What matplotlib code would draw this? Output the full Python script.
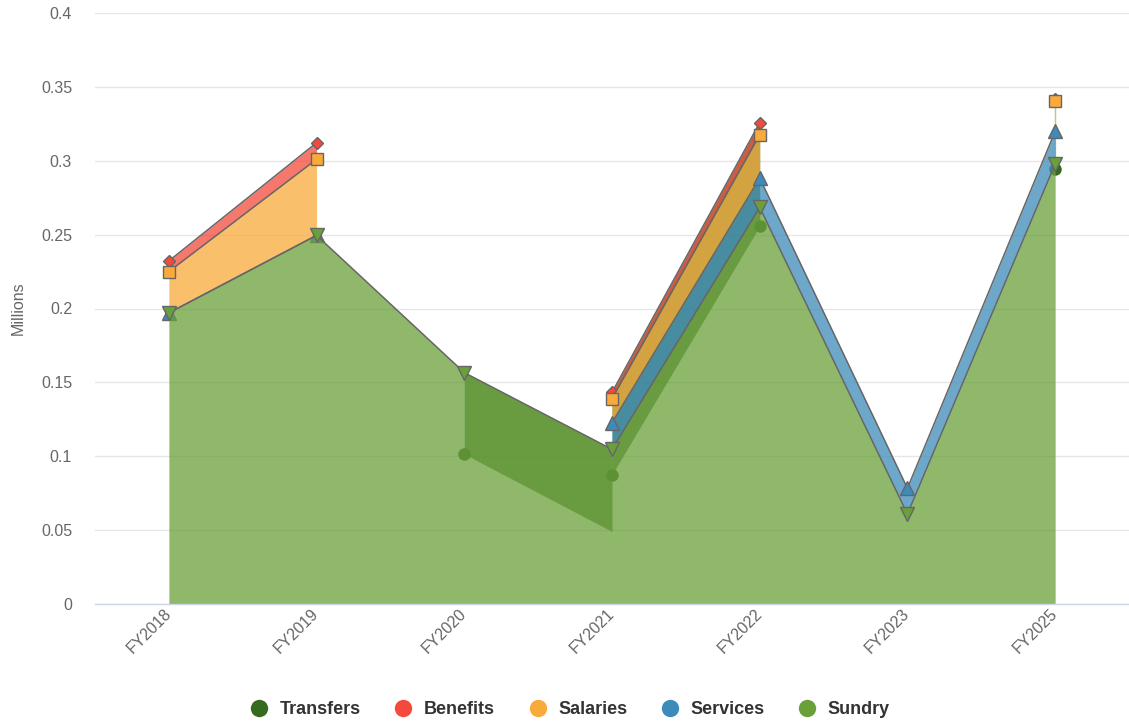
import numpy as np
import matplotlib.pyplot as plt
from matplotlib.lines import Line2D

plt.rcParams["font.family"] = ["Liberation Sans", "DejaVu Sans"]

categories = ["FY2018", "FY2019", "FY2020", "FY2021", "FY2022", "FY2023", "FY2025"]

# values in millions, None = no entry for that year
sundry = [0.197, 0.2495, 0.1566, 0.1047, 0.2685, 0.0609, 0.2978]
services = [0.0, 0.0, None, 0.018, 0.0198, 0.0174, 0.0221]
salaries = [0.028, 0.0515, None, 0.0163, 0.0294, None, 0.0208]
benefits = [0.0072, 0.0112, None, 0.0042, 0.0081, None, 0.0012]
transfers = [None, None, -0.0551, -0.0556, -0.070, None, -0.0478]

yticks = [0, 0.05, 0.1, 0.15, 0.2, 0.25, 0.3, 0.35, 0.4]
ytick_labels = ["0", "0.05", "0.1", "0.15", "0.2", "0.25", "0.3", "0.35", "0.4"]

# stacking order, bottom to top (drawn top-first so the bottom series sits above)
series = [
    dict(name="Sundry", values=sundry, color="#6aa03a", marker="v", ms=9.5, line=True, z=5),
    dict(name="Services", values=services, color="#3c8bba", marker="^", ms=9.5, line=True, z=4),
    dict(name="Salaries", values=salaries, color="#f8aa3a", marker="s", ms=8.5, line=True, z=3),
    dict(name="Benefits", values=benefits, color="#f4493b", marker="D", ms=6, line=True, z=2),
    dict(name="Transfers", values=transfers, color="#356a1f", marker="o", ms=9, line=False, z=1),
]
legend_order = ["Transfers", "Benefits", "Salaries", "Services", "Sundry"]

n = len(categories)
x = np.arange(n)

# stack segment by segment; a series only counts in a segment when both ends exist
runs = {s["name"]: [] for s in series}
for i in range(n - 1):
    b0 = b1 = 0.0
    for s in series:
        v = s["values"]
        if v[i] is None or v[i + 1] is None:
            continue
        t0, t1 = b0 + v[i], b1 + v[i + 1]
        rr = runs[s["name"]]
        if rr and rr[-1]["x"][-1] == i and abs(rr[-1]["b"][-1] - b0) < 1e-9 \
                and abs(rr[-1]["t"][-1] - t0) < 1e-9:
            rr[-1]["x"].append(i + 1)
            rr[-1]["b"].append(b1)
            rr[-1]["t"].append(t1)
        else:
            rr.append(dict(x=[i, i + 1], b=[b0, b1], t=[t0, t1]))
        b0, b1 = t0, t1

# marker positions: full stack at each category
mark = {s["name"]: ([], []) for s in series}
isolated = {s["name"]: [] for s in series}
for i in range(n):
    cum = 0.0
    for s in series:
        v = s["values"]
        if v[i] is None:
            continue
        lo = cum
        cum += v[i]
        mark[s["name"]][0].append(i)
        mark[s["name"]][1].append(cum)
        left = i > 0 and v[i - 1] is not None
        right = i < n - 1 and v[i + 1] is not None
        if not left and not right:
            isolated[s["name"]].append((i, lo, cum))

fig = plt.figure(figsize=(11.29, 7.25), dpi=100)
ax = fig.add_axes([95 / 1129, 1 - 604 / 725, 1034 / 1129, 591 / 725])

for s in series:
    nm, c, z = s["name"], s["color"], s["z"]
    for r in runs[nm]:
        ax.fill_between(r["x"], r["b"], r["t"], color=c, alpha=0.75, lw=0, zorder=z)
        if s["line"]:
            ax.plot(r["x"], r["t"], color="#666666", lw=1.1, zorder=z + 0.1,
                    solid_joinstyle="round")
    for (i, lo, hi) in isolated[nm]:
        ax.plot([i, i], [lo, hi], color=c, alpha=0.35, lw=1, zorder=z)
    mx, my = mark[nm]
    if s["line"]:
        ax.plot(mx, my, ls="none", marker=s["marker"], ms=s["ms"], mfc=c,
                mec="#666666", mew=1, zorder=z + 0.2)
    else:
        ax.plot(mx, my, ls="none", marker=s["marker"], ms=s["ms"], mfc=c,
                mec="none", zorder=z + 0.2)

ax.set_xlim(-0.5, n - 0.5)
ax.set_ylim(0, 0.4)
ax.set_yticks(yticks)
ax.set_yticklabels(ytick_labels)
ax.set_xticks(x)
ax.set_xticklabels(categories)
for lab in ax.get_xticklabels():
    lab.set_rotation(45)
    lab.set_ha("right")
    lab.set_va("center")
    lab.set_rotation_mode("anchor")
ax.tick_params(axis="y", length=0, pad=16.5, labelsize=11.5, labelcolor="#666666")
ax.tick_params(axis="x", length=0, pad=5.5, labelsize=11.5, labelcolor="#666666")
ax.grid(axis="y", color="#e6e6e6", lw=1)
ax.set_axisbelow(True)
for sp in ["top", "right", "left"]:
    ax.spines[sp].set_visible(False)
ax.spines["bottom"].set_color("#ccd6eb")
ax.spines["bottom"].set_linewidth(1)
ax.spines["bottom"].set_zorder(10)

fig.text(18 / 1129, 1 - 308 / 725, "Millions", rotation=90, ha="center", va="center",
         fontsize=11.5, color="#666666")

colors = {s["name"]: s["color"] for s in series}
handles = [Line2D([], [], ls="none", marker="o", ms=12.5, mfc=colors[nm], mec="none")
           for nm in legend_order]
fig.legend(handles, legend_order, loc="center", bbox_to_anchor=(570 / 1129, 15 / 725),
           ncol=5, frameon=False, handlelength=1.0, handletextpad=0.65,
           columnspacing=1.85, prop=dict(size=13, weight="bold"), labelcolor="#333333",
           borderpad=0, borderaxespad=0)

fig.savefig("out.png", dpi=100)
